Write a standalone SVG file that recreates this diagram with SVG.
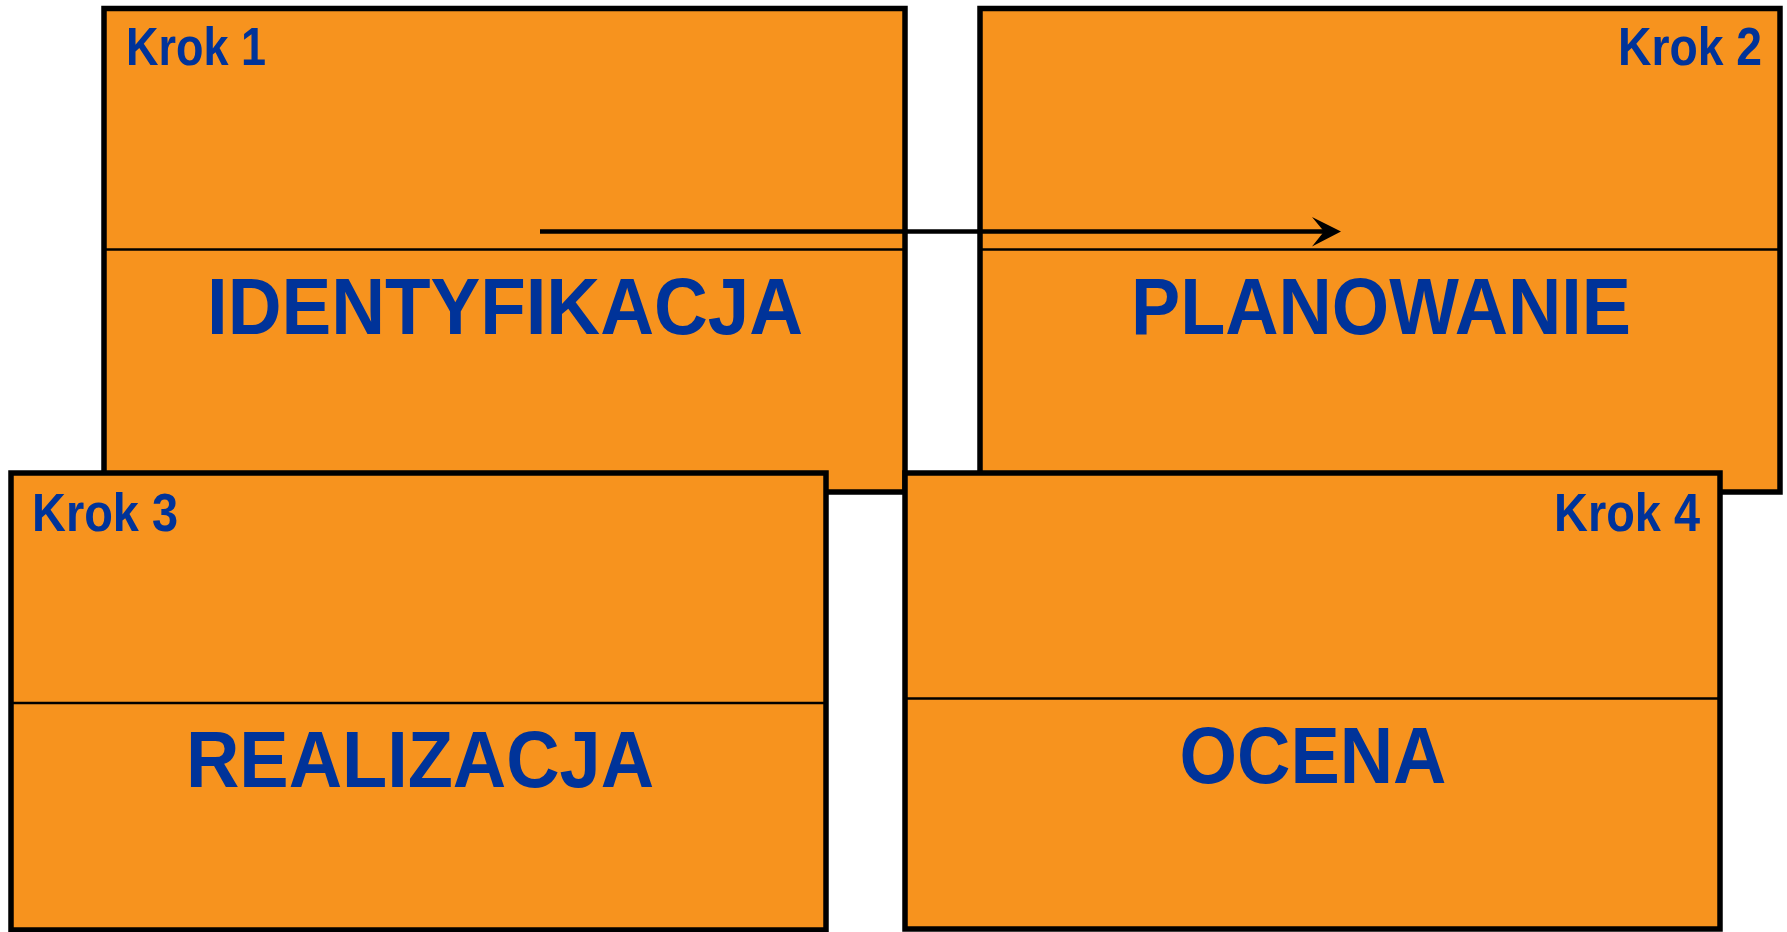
<svg xmlns="http://www.w3.org/2000/svg" width="1787" height="932" viewBox="0 0 1787 932">
<style>
.box{fill:#F7931E;stroke:#000;stroke-width:5.5}
.div{stroke:#000;stroke-width:2.5}
.step{font-family:"Liberation Sans",Arial,sans-serif;font-weight:bold;font-size:53px;fill:#003399}
.title{font-family:"Liberation Sans",Arial,sans-serif;font-weight:bold;font-size:80px;fill:#003399;text-anchor:middle}
.conn{stroke:#000;stroke-width:4.5;fill:none}
</style>
<rect width="1787" height="932" fill="#fff"/>
<g id="krok1">
<rect class="box" x="104" y="8.5" width="801" height="483.5"/>
<line class="div" x1="104" y1="249.5" x2="905" y2="249.5"/>
<text class="step" x="126" y="65" textLength="140" lengthAdjust="spacingAndGlyphs">Krok 1</text>
<text class="title" x="505" y="334" textLength="596" lengthAdjust="spacingAndGlyphs">IDENTYFIKACJA</text>
</g>
<g id="krok2">
<rect class="box" x="980" y="8.5" width="800" height="483.5"/>
<line class="div" x1="980" y1="249.5" x2="1780" y2="249.5"/>
<text class="step" x="1762" y="65" text-anchor="end" textLength="144" lengthAdjust="spacingAndGlyphs">Krok 2</text>
<text class="title" x="1381" y="334" textLength="500" lengthAdjust="spacingAndGlyphs">PLANOWANIE</text>
</g>
<g id="krok3">
<rect class="box" x="11" y="473" width="815" height="457"/>
<line class="div" x1="11" y1="703" x2="826" y2="703"/>
<text class="step" x="32" y="531" textLength="146" lengthAdjust="spacingAndGlyphs">Krok 3</text>
<text class="title" x="420" y="787" textLength="468" lengthAdjust="spacingAndGlyphs">REALIZACJA</text>
</g>
<g id="krok4">
<rect class="box" x="905" y="473" width="815" height="456"/>
<line class="div" x1="905" y1="698.5" x2="1720" y2="698.5"/>
<text class="step" x="1700" y="531" text-anchor="end" textLength="146" lengthAdjust="spacingAndGlyphs">Krok 4</text>
<text class="title" x="1313" y="782.5" textLength="267" lengthAdjust="spacingAndGlyphs">OCENA</text>
</g>
<g id="connectors">
<line class="conn" x1="540" y1="231.5" x2="1326" y2="231.5"/>
<polygon points="1341,231.5 1312,217 1324,231.5 1312,246.5" fill="#000"/>
</g>
</svg>
